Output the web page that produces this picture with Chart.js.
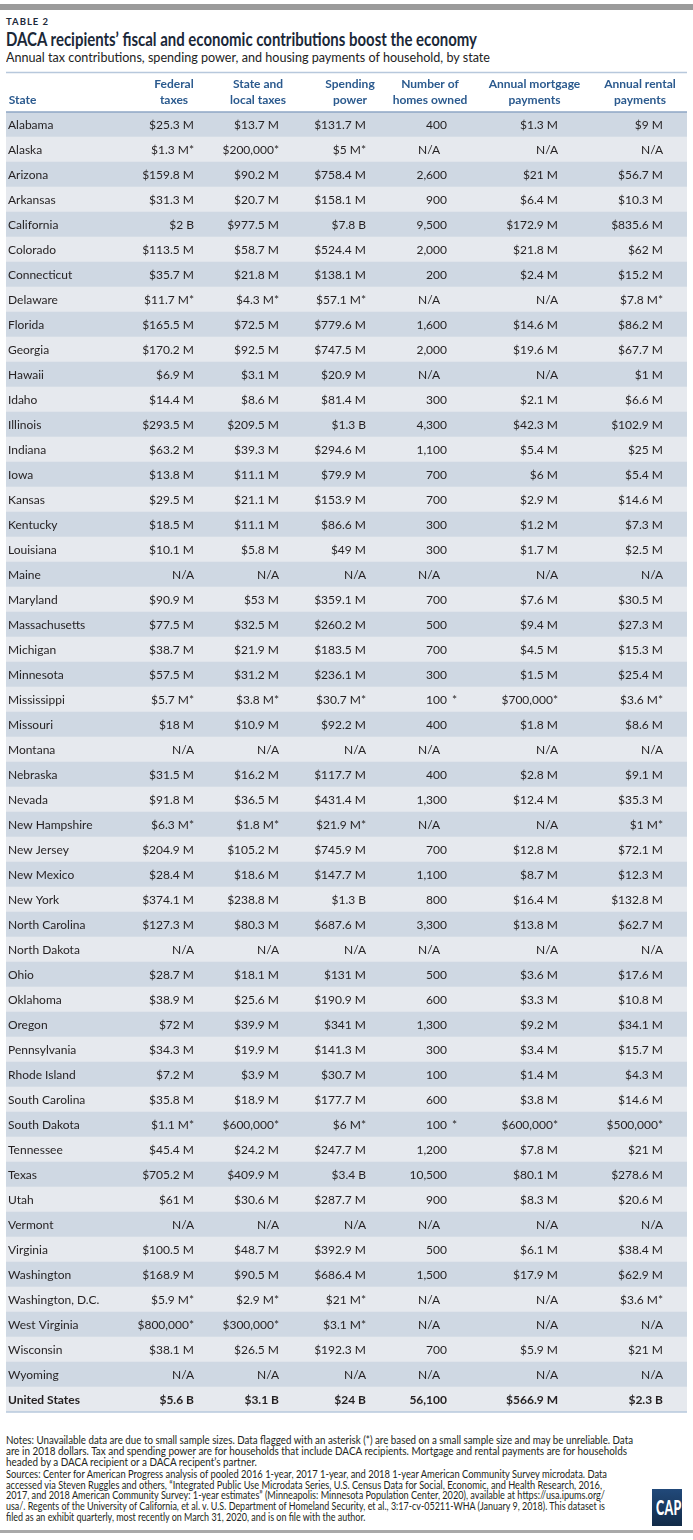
<!DOCTYPE html>
<html><head><meta charset="utf-8">
<script src="https://cdn.jsdelivr.net/npm/chart.js@4/dist/chart.umd.min.js"></script>
<style>
html,body{margin:0;padding:0;background:#fff;}
body{width:693px;height:1540px;position:relative;overflow:hidden;font-family:Lato,"Noto Sans",sans-serif;color:#231f20;}
.abs{position:absolute;white-space:nowrap;transform-origin:0 0;}
#topbar{position:absolute;left:0;top:4px;width:693px;height:6px;background:#9b9b9b;}
#botbar{position:absolute;left:0;top:1530px;width:693px;height:3px;background:#a9a9a9;}
#kicker{left:6px;top:16px;font-size:9.5px;font-weight:700;letter-spacing:1px;color:#1d2a3a;line-height:12px;}
#title{left:6px;top:29px;font-size:18.5px;font-weight:700;color:#1b2838;line-height:20px;}
#subtitle{left:6px;top:49px;font-size:13.5px;color:#222;line-height:16px;}
#chartwrap{position:absolute;left:0;top:0;width:693px;height:1414px;}
#notes{left:6px;top:1435px;font-size:10.5px;line-height:10.8px;color:#231f20;}
#notes .ln{white-space:nowrap;transform-origin:0 0;}
#notes .gap{height:1.5px;}
#logo{position:absolute;left:652px;top:1489px;width:30px;height:37px;background:linear-gradient(#21497a,#122b48);overflow:hidden;}
#logo span{position:absolute;left:4px;top:8px;color:#fff;font-weight:900;font-size:20px;line-height:20px;transform:scaleX(0.62);transform-origin:0 0;letter-spacing:0.5px;}
</style></head>
<body>
<div id="topbar"></div>
<div id="kicker" class="abs">TABLE 2</div>
<div id="title" class="abs"><span>DACA recipients’ fiscal and economic contributions boost the economy</span></div>
<div id="subtitle" class="abs"><span>Annual tax contributions, spending power, and housing payments of household, by state</span></div>
<div id="chartwrap"><canvas id="c" width="693" height="1414"></canvas></div>
<div id="notes" class="abs">
<div class="ln" data-w="627"><span>Notes: Unavailable data are due to small sample sizes. Data flagged with an asterisk (*) are based on a small sample size and may be unreliable. Data</span></div>
<div class="ln" data-w="621"><span>are in 2018 dollars. Tax and spending power are for households that include DACA recipients. Mortgage and rental payments are for households</span></div>
<div class="ln"><span>headed by a DACA recipient or a DACA recipent’s partner.</span></div>
<div class="gap"></div>
<div class="ln" data-w="601"><span>Sources: Center for American Progress analysis of pooled 2016 1-year, 2017 1-year, and 2018 1-year American Community Survey microdata. Data</span></div>
<div class="ln" data-w="596"><span>accessed via Steven Ruggles and others, “Integrated Public Use Microdata Series, U.S. Census Data for Social, Economic, and Health Research, 2016,</span></div>
<div class="ln" data-w="599"><span>2017, and 2018 American Community Survey: 1-year estimates” (Minneapolis: Minnesota Population Center, 2020), available at https://usa.ipums.org/</span></div>
<div class="ln" data-w="599"><span>usa/. Regents of the University of California, et al. v. U.S. Department of Homeland Security, et al., 3:17-cv-05211-WHA (January 9, 2018). This dataset is</span></div>
<div class="ln"><span>filed as an exhibit quarterly, most recently on March 31, 2020, and is on file with the author.</span></div>
</div>
<div id="logo"><span>CAP</span></div>
<div id="botbar"></div>
<script>
// ---------- DATA ----------
const states = ["Alabama","Alaska","Arizona","Arkansas","California","Colorado","Connecticut","Delaware","Florida","Georgia","Hawaii","Idaho","Illinois","Indiana","Iowa","Kansas","Kentucky","Louisiana","Maine","Maryland","Massachusetts","Michigan","Minnesota","Mississippi","Missouri","Montana","Nebraska","Nevada","New Hampshire","New Jersey","New Mexico","New York","North Carolina","North Dakota","Ohio","Oklahoma","Oregon","Pennsylvania","Rhode Island","South Carolina","South Dakota","Tennessee","Texas","Utah","Vermont","Virginia","Washington","Washington, D.C.","West Virginia","Wisconsin","Wyoming","United States"];
const federalTaxes = ["$25.3 M","$1.3 M*","$159.8 M","$31.3 M","$2 B","$113.5 M","$35.7 M","$11.7 M*","$165.5 M","$170.2 M","$6.9 M","$14.4 M","$293.5 M","$63.2 M","$13.8 M","$29.5 M","$18.5 M","$10.1 M","N/A","$90.9 M","$77.5 M","$38.7 M","$57.5 M","$5.7 M*","$18 M","N/A","$31.5 M","$91.8 M","$6.3 M*","$204.9 M","$28.4 M","$374.1 M","$127.3 M","N/A","$28.7 M","$38.9 M","$72 M","$34.3 M","$7.2 M","$35.8 M","$1.1 M*","$45.4 M","$705.2 M","$61 M","N/A","$100.5 M","$168.9 M","$5.9 M*","$800,000*","$38.1 M","N/A","$5.6 B"];
const stateLocalTaxes = ["$13.7 M","$200,000*","$90.2 M","$20.7 M","$977.5 M","$58.7 M","$21.8 M","$4.3 M*","$72.5 M","$92.5 M","$3.1 M","$8.6 M","$209.5 M","$39.3 M","$11.1 M","$21.1 M","$11.1 M","$5.8 M","N/A","$53 M","$32.5 M","$21.9 M","$31.2 M","$3.8 M*","$10.9 M","N/A","$16.2 M","$36.5 M","$1.8 M*","$105.2 M","$18.6 M","$238.8 M","$80.3 M","N/A","$18.1 M","$25.6 M","$39.9 M","$19.9 M","$3.9 M","$18.9 M","$600,000*","$24.2 M","$409.9 M","$30.6 M","N/A","$48.7 M","$90.5 M","$2.9 M*","$300,000*","$26.5 M","N/A","$3.1 B"];
const spendingPower = ["$131.7 M","$5 M*","$758.4 M","$158.1 M","$7.8 B","$524.4 M","$138.1 M","$57.1 M*","$779.6 M","$747.5 M","$20.9 M","$81.4 M","$1.3 B","$294.6 M","$79.9 M","$153.9 M","$86.6 M","$49 M","N/A","$359.1 M","$260.2 M","$183.5 M","$236.1 M","$30.7 M*","$92.2 M","N/A","$117.7 M","$431.4 M","$21.9 M*","$745.9 M","$147.7 M","$1.3 B","$687.6 M","N/A","$131 M","$190.9 M","$341 M","$141.3 M","$30.7 M","$177.7 M","$6 M*","$247.7 M","$3.4 B","$287.7 M","N/A","$392.9 M","$686.4 M","$21 M*","$3.1 M*","$192.3 M","N/A","$24 B"];
const homesOwned = ["400","N/A","2,600","900","9,500","2,000","200","N/A","1,600","2,000","N/A","300","4,300","1,100","700","700","300","300","N/A","700","500","700","300","100 *","400","N/A","400","1,300","N/A","700","1,100","800","3,300","N/A","500","600","1,300","300","100","600","100 *","1,200","10,500","900","N/A","500","1,500","N/A","N/A","700","N/A","56,100"];
const mortgagePayments = ["$1.3 M","N/A","$21 M","$6.4 M","$172.9 M","$21.8 M","$2.4 M","N/A","$14.6 M","$19.6 M","N/A","$2.1 M","$42.3 M","$5.4 M","$6 M","$2.9 M","$1.2 M","$1.7 M","N/A","$7.6 M","$9.4 M","$4.5 M","$1.5 M","$700,000*","$1.8 M","N/A","$2.8 M","$12.4 M","N/A","$12.8 M","$8.7 M","$16.4 M","$13.8 M","N/A","$3.6 M","$3.3 M","$9.2 M","$3.4 M","$1.4 M","$3.8 M","$600,000*","$7.8 M","$80.1 M","$8.3 M","N/A","$6.1 M","$17.9 M","N/A","N/A","$5.9 M","N/A","$566.9 M"];
const rentalPayments = ["$9 M","N/A","$56.7 M","$10.3 M","$835.6 M","$62 M","$15.2 M","$7.8 M*","$86.2 M","$67.7 M","$1 M","$6.6 M","$102.9 M","$25 M","$5.4 M","$14.6 M","$7.3 M","$2.5 M","N/A","$30.5 M","$27.3 M","$15.3 M","$25.4 M","$3.6 M*","$8.6 M","N/A","$9.1 M","$35.3 M","$1 M*","$72.1 M","$12.3 M","$132.8 M","$62.7 M","N/A","$17.6 M","$10.8 M","$34.1 M","$15.7 M","$4.3 M","$14.6 M","$500,000*","$21 M","$278.6 M","$20.6 M","N/A","$38.4 M","$62.9 M","$3.6 M*","N/A","$21 M","N/A","$2.3 B"];
const columnHeaders = ["State",["Federal","taxes"],["State and","local taxes"],["Spending","power"],["Number of","homes owned"],["Annual mortgage","payments"],["Annual rental","payments"]];

// ---------- LAYOUT (positions in x-scale units = px) ----------
const X_MIN = 6, X_MAX = 687;
const headerCenters = [22.5, 174, 258, 350, 430, 534.5, 640];
const stateLeft = 8;
const valueRight = [194, 279, 366, 447, 558, 663];
const homesNARight = 440;

const valueColumns = [federalTaxes, stateLocalTaxes, spendingPower, homesOwned, mortgagePayments, rentalPayments];

Chart.defaults.font.family = 'Lato, "Noto Sans", sans-serif';

const tablePlugin = {
  id: 'tableCells',
  afterDatasetsDraw(chart) {
    const {ctx, scales: {x, y}, chartArea} = chart;
    ctx.save();
    ctx.textBaseline = 'middle';
    ctx.fillStyle = '#231f20';
    states.forEach((s, i) => {
      const py = y.getPixelForValue(i) + 0.5;
      const bold = i === states.length - 1;
      ctx.font = (bold ? '700 ' : '400 ') + '12px Lato';
      ctx.textAlign = 'left';
      ctx.fillText(s, x.getPixelForValue(stateLeft), py);
      valueColumns.forEach((col, c) => {
        let v = col[i];
        let px = x.getPixelForValue(valueRight[c]);
        ctx.textAlign = 'right';
        if (c === 3) {
          if (v === 'N/A') { px = x.getPixelForValue(homesNARight); }
          else if (v.endsWith(' *')) {
            ctx.fillText(v.slice(0, -2), px, py);
            ctx.textAlign = 'left';
            ctx.fillText('*', px + 5, py);
            return;
          }
        }
        ctx.fillText(v, px, py);
      });
    });
    // rules
    ctx.lineWidth = 1.5;
    ctx.strokeStyle = '#b7c8dc';
    ctx.beginPath(); ctx.moveTo(chartArea.left, x.top + 0.5); ctx.lineTo(chartArea.right, x.top + 0.5); ctx.stroke();
    ctx.strokeStyle = '#8ea6c4';
    ctx.beginPath(); ctx.moveTo(chartArea.left, chartArea.top); ctx.lineTo(chartArea.right, chartArea.top); ctx.stroke();
    ctx.strokeStyle = '#b7c8dc';
    ctx.beginPath(); ctx.moveTo(chartArea.left, chartArea.bottom); ctx.lineTo(chartArea.right, chartArea.bottom); ctx.stroke();
    ctx.restore();
  }
};

new Chart(document.getElementById('c'), {
  type: 'bar',
  data: {
    labels: states,
    datasets: [{
      data: states.map(() => [X_MIN, X_MAX]),
      backgroundColor: c => (c.dataIndex % 2 ? '#e6e9ee' : '#cfd8e3'),
      barPercentage: 1, categoryPercentage: 1, borderWidth: 0, borderSkipped: false
    }]
  },
  options: {
    indexAxis: 'y', responsive: false, animation: false, events: [],
    layout: {padding: {top: 72, bottom: 2, left: 6, right: 6}},
    plugins: {legend: {display: false}, tooltip: {enabled: false}, title: {display: false}},
    scales: {
      x: {
        type: 'linear', position: 'top', min: X_MIN, max: X_MAX,
        grid: {display: false, drawTicks: false}, border: {display: false},
        afterBuildTicks: s => { s.ticks = headerCenters.map(v => ({value: v})); },
        afterFit: s => { s.height = 40; },
        ticks: {
          autoSkip: false, maxRotation: 0, minRotation: 0, padding: 4,
          color: '#2b5a8e',
          font: {size: 12, weight: '700', lineHeight: 1.3333},
          callback: (v, i) => columnHeaders[i]
        }
      },
      y: {type: 'category', display: false, offset: true, grid: {display: false}}
    }
  },
  plugins: [tablePlugin]
});

// fit headline widths to the reference
function fit(el, target) {
  const w = el.getBoundingClientRect().width;
  if (w > 0) el.style.transform = 'scaleX(' + (target / w) + ')';
}
fit(document.querySelector('#title'), 471);
fit(document.querySelector('#subtitle'), 484);
(function(){
  let last = 1;
  document.querySelectorAll('#notes .ln').forEach(ln => {
    const sp = ln.querySelector('span');
    const t = parseFloat(ln.dataset.w || '0');
    if (t > 0) {
      const w = sp.getBoundingClientRect().width;
      if (w > 0) last = t / w;
    }
    ln.style.transform = 'scaleX(' + last + ')';
  });
})();
</script>
</body></html>
